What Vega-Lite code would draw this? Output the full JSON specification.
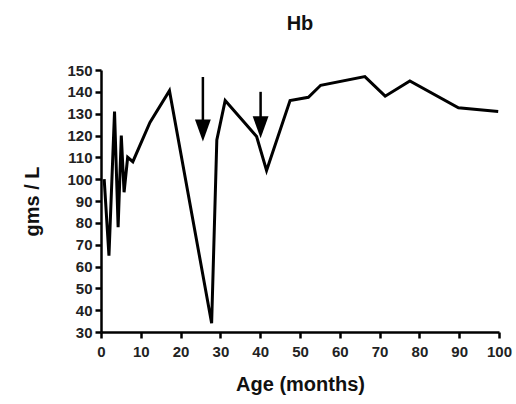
{
  "$schema": "https://vega.github.io/schema/vega-lite/v6.json",
  "autosize": {"type": "none"},
  "padding": {"left": 101, "top": 70, "right": 17, "bottom": 72},
  "width": 398,
  "height": 262,
  "background": "white",
  "title": {
    "text": "Hb",
    "font": "Liberation Sans",
    "fontSize": 20,
    "fontWeight": "bold",
    "color": "#111",
    "anchor": "middle",
    "offset": 29
  },
  "config": {
    "view": {"stroke": null},
    "axis": {
      "labelFont": "Liberation Sans",
      "labelFontSize": 15,
      "labelFontWeight": "bold",
      "labelColor": "#222",
      "titleFont": "Liberation Sans",
      "titleFontSize": 20,
      "titleFontWeight": "bold",
      "titleColor": "#111",
      "domainColor": "#000",
      "domainWidth": 2.5,
      "tickColor": "#000",
      "tickWidth": 2.5,
      "tickSize": 6,
      "grid": false
    }
  },
  "datasets": {
    "hb": [
      {"age": 0.8, "hb": 100},
      {"age": 2.0, "hb": 65},
      {"age": 3.4, "hb": 131},
      {"age": 4.3, "hb": 78},
      {"age": 5.1, "hb": 120},
      {"age": 5.8, "hb": 94},
      {"age": 6.7, "hb": 110},
      {"age": 8.0, "hb": 108},
      {"age": 12.3, "hb": 126},
      {"age": 17.2, "hb": 140.5},
      {"age": 27.8, "hb": 34},
      {"age": 29.1, "hb": 118},
      {"age": 31.2, "hb": 136},
      {"age": 39.1, "hb": 119.5},
      {"age": 41.6, "hb": 104},
      {"age": 47.5, "hb": 136},
      {"age": 52.1, "hb": 137.5},
      {"age": 55.2, "hb": 143},
      {"age": 66.3, "hb": 147},
      {"age": 71.4, "hb": 138},
      {"age": 77.6, "hb": 145},
      {"age": 89.8, "hb": 132.7},
      {"age": 99.8, "hb": 131}
    ],
    "arrows": [
      {"age": 25.6, "top": 146.8, "base": 126.5, "tip": 117.2},
      {"age": 40.1, "top": 140, "base": 128, "tip": 118.7}
    ]
  },
  "layer": [
    {
      "data": {"name": "hb"},
      "mark": {"type": "line", "color": "#000", "strokeWidth": 3, "strokeJoin": "miter", "clip": false},
      "encoding": {
        "x": {
          "field": "age",
          "type": "quantitative",
          "scale": {"domain": [0, 100], "nice": false, "zero": false},
          "axis": {
            "values": [0, 10, 20, 30, 40, 50, 60, 70, 80, 90, 100],
            "tickCount": 20,
            "labelOverlap": false,
            "labelFlush": false,
            "labelBound": false,
            "title": "Age (months)",
            "titlePadding": 15,
            "labelPadding": 6
          }
        },
        "y": {
          "field": "hb",
          "type": "quantitative",
          "scale": {"domain": [30, 150], "nice": false, "zero": false},
          "axis": {
            "values": [30, 40, 50, 60, 70, 80, 90, 100, 110, 120, 130, 140, 150],
            "tickCount": 20,
            "labelOverlap": false,
            "labelFlush": false,
            "labelBound": false,
            "title": "gms / L",
            "titlePadding": 24,
            "labelPadding": 3
          }
        }
      }
    },
    {
      "data": {"name": "arrows"},
      "mark": {"type": "rule", "color": "#000", "strokeWidth": 2.5},
      "encoding": {
        "x": {"field": "age", "type": "quantitative"},
        "y": {"field": "top", "type": "quantitative"},
        "y2": {"field": "base"}
      }
    },
    {
      "data": {"name": "arrows"},
      "mark": {
        "type": "point",
        "filled": true,
        "color": "#000",
        "opacity": 1,
        "shape": "M-0.72,-1L0.72,-1L0,1Z",
        "size": 484,
        "yOffset": -11
      },
      "encoding": {
        "x": {"field": "age", "type": "quantitative"},
        "y": {"field": "tip", "type": "quantitative"}
      }
    }
  ]
}
